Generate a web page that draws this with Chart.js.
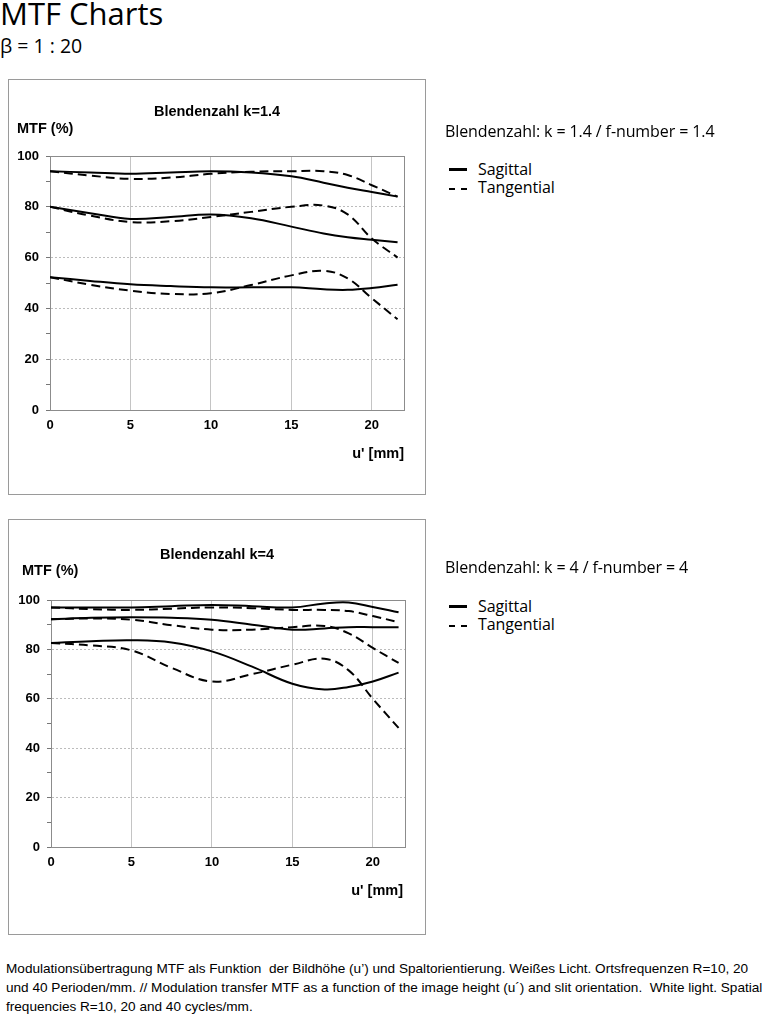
<!DOCTYPE html>
<html>
<head>
<meta charset="utf-8">
<script src="https://cdn.jsdelivr.net/npm/chart.js@4"></script>
<style>
  body { margin: 0; background: #fff; width: 768px; height: 1024px; position: relative; overflow: hidden; }
  .abs { position: absolute; white-space: pre; line-height: 1; color: #000; }
  .head { font-family: "Open Sans", sans-serif; }
  .box { position: absolute; left: 8px; width: 416px; height: 414px; border: 1px solid #9a9a9a; }
  .box canvas { position: absolute; left: 0; top: 0; }
  .lbl { font-family: "Liberation Sans", Arial, sans-serif; font-weight: bold; font-size: 14.5px; }
  .leg { font-family: "Open Sans", sans-serif; font-size: 16px; letter-spacing: -0.1px; }
  .solid { position: absolute; width: 18px; height: 3px; background: #000; }
  .dash { position: absolute; width: 6px; height: 2px; background: #000; }
  .foot { position: absolute; left: 6px; top: 959px; font-family: "Liberation Sans", Arial, sans-serif; font-size: 13.6px; line-height: 19px; white-space: pre; }
</style>
</head>
<body>
<div class="abs head" style="left:0;top:-2px;font-size:31px;">MTF Charts</div>
<div class="abs head" style="left:0;top:36px;font-size:19.5px;">β = 1 : 20</div>

<div class="box" style="top:79px;"><canvas id="chart14" width="416" height="414"></canvas></div>
<div class="abs lbl" style="left:0;width:434px;text-align:center;top:104px;">Blendenzahl k=1.4</div>
<div class="abs lbl" style="left:17px;top:121px;">MTF (%)</div>
<div class="abs lbl" style="left:300px;width:104px;text-align:right;top:446px;">u' [mm]</div>

<div class="abs leg" style="left:445px;top:123px;">Blendenzahl: k = 1.4 / f-number = 1.4</div>
<div class="solid" style="left:449px;top:168px;"></div>
<div class="abs leg" style="left:478px;top:161px;">Sagittal</div>
<div class="dash" style="left:449px;top:188px;"></div><div class="dash" style="left:461px;top:188px;"></div>
<div class="abs leg" style="left:478px;top:179px;">Tangential</div>

<div class="box" style="top:519px;"><canvas id="chart4" width="416" height="414"></canvas></div>
<div class="abs lbl" style="left:0;width:434px;text-align:center;top:547px;">Blendenzahl k=4</div>
<div class="abs lbl" style="left:22px;top:563px;">MTF (%)</div>
<div class="abs lbl" style="left:300px;width:103px;text-align:right;top:883px;">u' [mm]</div>

<div class="abs leg" style="left:445px;top:559px;">Blendenzahl: k = 4 / f-number = 4</div>
<div class="solid" style="left:449px;top:605px;"></div>
<div class="abs leg" style="left:478px;top:598px;">Sagittal</div>
<div class="dash" style="left:449px;top:625px;"></div><div class="dash" style="left:461px;top:625px;"></div>
<div class="abs leg" style="left:478px;top:616px;">Tangential</div>

<div class="foot">Modulationsübertragung MTF als Funktion  der Bildhöhe (u’) und Spaltorientierung. Weißes Licht. Ortsfrequenzen R=10, 20
und 40 Perioden/mm. // Modulation transfer MTF as a function of the image height (u´) and slit orientation.  White light. Spatial
frequencies R=10, 20 and 40 cycles/mm.</div>

<script>
// Bildhöhe u' [mm]
const imageHeights = [0, 2.5, 5, 7.5, 10, 12.5, 15, 17, 18.5, 20, 21.6];

// k = 1.4
const k14Sag10 = [94, 93.5, 93, 93.5, 94, 93.5, 92, 89.5, 87.5, 85.8, 84];
const k14Tan10 = [94, 92.3, 91, 91.5, 93, 93.8, 94, 94, 92.5, 88.5, 84];
const k14Sag20 = [80, 77.5, 75.2, 76, 77, 75.5, 72.2, 69.5, 68, 67, 66];
const k14Tan20 = [80, 76.5, 74, 74.3, 76, 78, 80, 80.5, 77, 67.5, 60];
const k14Sag40 = [52.3, 50.8, 49.5, 48.8, 48.3, 48.3, 48.3, 47.5, 47.3, 48, 49.3];
const k14Tan40 = [52.3, 49.3, 47, 45.7, 46, 49.2, 53, 54.8, 51.8, 44, 35.7];

// k = 4
const k4Sag10 = [97, 97, 97, 97.5, 98, 97.5, 97, 98.6, 99, 97.2, 95];
const k4Tan10 = [97, 96.3, 96, 96.5, 97, 96.7, 96, 96, 95.5, 93.5, 91];
const k4Sag20 = [92.2, 92.8, 93, 92.8, 92, 90, 88, 88.5, 89, 89, 89];
const k4Tan20 = [92.2, 92.5, 92, 89.8, 88, 88, 89, 89.5, 86.5, 80.6, 74.5];
const k4Sag40 = [82.6, 83.3, 83.7, 82.8, 79.2, 73, 66.1, 63.8, 64.8, 67, 70.6];
const k4Tan40 = [82.6, 81.6, 79.6, 72.5, 67, 70, 73.8, 76.2, 71.5, 60, 48.2];

const xTicks = [0, 5, 10, 15, 20];

const toPoints = (values) => values.map((v, i) => ({ x: imageHeights[i], y: v }));

const makeSet = (values, tangential) => ({
    data: toPoints(values),
    borderColor: "#000",
    borderWidth: 2,
    borderDash: tangential ? [9, 5] : [],
    pointRadius: 0,
    tension: 0.4,
    fill: false
});

// grauer Rahmen um die Diagrammfläche
const framePlugin = {
    id: "frame",
    beforeDatasetsDraw(chart) {
        const { ctx, chartArea: a } = chart;
        ctx.save();
        ctx.strokeStyle = "#8c8c8c";
        ctx.lineWidth = 1;
        ctx.strokeRect(a.left + 0.5, a.top + 0.5, a.right - a.left, a.bottom - a.top);
        ctx.restore();
    }
};

const drawMTF = (id, series, area) => {
    const tickFont = { family: "'Liberation Sans', Arial, sans-serif", size: 13, weight: "bold" };
    new Chart(document.getElementById(id), {
        type: "line",
        data: {
            datasets: [
                makeSet(series[0], false), makeSet(series[1], true),
                makeSet(series[2], false), makeSet(series[3], true),
                makeSet(series[4], false), makeSet(series[5], true)
            ]
        },
        options: {
            responsive: false,
            animation: false,
            devicePixelRatio: 1,
            layout: { padding: { top: area.top, right: 416 - area.right, left: 0, bottom: 0 } },
            plugins: { legend: { display: false }, tooltip: { enabled: false } },
            scales: {
                x: {
                    type: "linear",
                    min: 0,
                    max: 22,
                    afterBuildTicks: (scale) => { scale.ticks = xTicks.map(v => ({ value: v })); },
                    afterFit: (scale) => { scale.height = 414 - area.bottom; },
                    ticks: { font: tickFont, color: "#000", padding: 8 },
                    grid: { color: (c) => c.tick && c.tick.value > 0 ? "#c4c4c4" : "rgba(0,0,0,0)", drawTicks: false },
                    border: { color: "#8c8c8c" }
                },
                y: {
                    min: 0,
                    max: 100,
                    afterFit: (scale) => { scale.width = area.left; },
                    ticks: {
                        stepSize: 10,
                        font: tickFont,
                        color: "#000",
                        padding: 7,
                        callback: (v) => v % 20 === 0 ? v : ""
                    },
                    grid: {
                        color: (c) => c.tick && c.tick.value % 20 === 0 && c.tick.value > 0 && c.tick.value < 100 ? "#bcbcbc" : "rgba(0,0,0,0)",
                        tickColor: "#777",
                        tickLength: 4
                    },
                    border: { color: "#8c8c8c", dash: [2, 2] }
                }
            }
        },
        plugins: [framePlugin]
    });
};

drawMTF("chart14", [k14Sag10, k14Tan10, k14Sag20, k14Tan20, k14Sag40, k14Tan40],
    { left: 41, right: 395, top: 76, bottom: 330 });
drawMTF("chart4", [k4Sag10, k4Tan10, k4Sag20, k4Tan20, k4Sag40, k4Tan40],
    { left: 42, right: 396, top: 80, bottom: 327 });
</script>
</body>
</html>
